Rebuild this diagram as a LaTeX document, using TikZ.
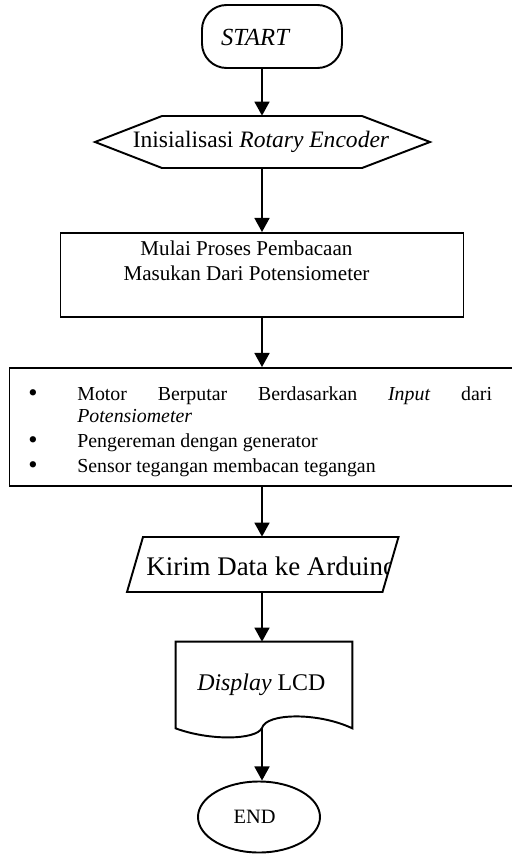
\documentclass[tikz,border=0pt]{standalone}
\usepackage{fontspec}
\setmainfont{Liberation Serif}
\usetikzlibrary{positioning,arrows.meta,shapes.geometric}
\newcommand{\pxu}{0.569pt}
\tikzset{
  >={Triangle[length=8pt,width=8.5pt]},
  line/.style={draw, line width=1.1pt},
  termbox/.style={
    line,
    rounded corners=14pt,
    minimum width=140*\pxu,
    minimum height=63*\pxu
  },
  procbox/.style={line, rectangle, inner sep=0pt},
  frame/.style={inner sep=0pt},
  item/.style={inner sep=0pt, anchor=base west, font=\fontsize{11.3}{13.5}\selectfont},
  dot/.style={inner sep=0pt, anchor=base, font=\fontsize{15}{16}\selectfont},
  stopshape/.style={
    line,
    ellipse,
    inner sep=0pt,
    minimum width=122*\pxu,
    minimum height=71*\pxu
  }
}

\begin{document}
\begin{tikzpicture}[x=0.569pt, y=-0.569pt]
  \useasboundingbox (0,0) rectangle (512,855);
  \clip (0,0) rectangle (512,855);

  % start
  \node[termbox] (start) at (272,36.5) {};
  \node[font=\fontsize{14}{17}\selectfont\itshape] (starttext) at (255,37) {START};

  % inisialisasi
  \node[frame, font=\fontsize{13.4}{16}\selectfont, minimum height=52*\pxu] (ini) at (261,142)
       {Inisialisasi \textit{Rotary Encoder}};
  \draw[line] (95,142) -- (162,116) -- (362,116) -- (430,142) -- (362,168) -- (162,168) -- cycle;

  % pembacaan
  \node[procbox, minimum width=403*\pxu, minimum height=84*\pxu] (mulai) at (262,275) {};
  \node[font=\fontsize{12}{14.2}\selectfont, align=center] (mulaitext) at (246.5,261)
       {Mulai Proses Pembacaan\\Masukan Dari Potensiometer};

  % proses
  \node[procbox, minimum width=505*\pxu, minimum height=118*\pxu] (proses) at (262,427) {};
  \node[dot] (dot1) at (33,401) {\textbullet};
  \node[dot] (dot2) at (33,448) {\textbullet};
  \node[dot] (dot3) at (33,473) {\textbullet};
  \node[item] (item1) at (77,400) {\makebox[236pt][s]{Motor Berputar Berdasarkan \textit{Input} dari}};
  \node[item] (item1b) at (77,422) {\textit{Potensiometer}};
  \node[item] (item2) at (77,447) {Pengereman dengan generator};
  \node[item] (item3) at (77,472) {Sensor tegangan membacan tegangan};

  % kirim
  \node[frame, minimum width=255.5*\pxu, minimum height=55*\pxu] (kirim) at (262.75,564.5) {};
  \begin{scope}
    \clip (143,537) -- (398.5,537) -- (382.5,592) -- (127,592) -- cycle;
    \node[font=\fontsize{15.3}{18}\selectfont] (kirimtext) at (271.5,566) {Kirim Data ke Arduino};
  \end{scope}
  \draw[line] (143,537) -- (398.5,537) -- (382.5,592) -- (127,592) -- cycle;

  % lcd
  \node[frame, font=\fontsize{13.6}{16}\selectfont, minimum width=176*\pxu, minimum height=86*\pxu] (lcd) at (264,685)
       {\textit{Display} LCD\hspace*{3pt}};
  \draw[line] (lcd.south west) -- (lcd.north west) -- (lcd.north east) -- (lcd.south east)
       .. controls (318,712) and (266,713) .. (262,728) coordinate (lcdcusp)
       .. controls (256,740) and (210,741) .. (lcd.south west) -- cycle;

  % end
  \node[stopshape, font=\fontsize{11.6}{14}\selectfont] (stop) at (259,817) {END\hspace*{5pt}};

  \draw[line, ->] (start.south -| mulai.north) -- (ini.north -| mulai.north);
  \draw[line, ->] (ini.south -| mulai.north) -- (mulai.north);
  \draw[line, ->] (mulai.south) -- (proses.north);
  \draw[line, ->] (proses.south) -- (proses.south |- kirim.north);
  \draw[line, ->] (kirim.south -| proses.south) -- (proses.south |- lcd.north);
  \draw[line, ->] (lcdcusp) -- (lcdcusp |- stop.north);
\end{tikzpicture}
\end{document}
